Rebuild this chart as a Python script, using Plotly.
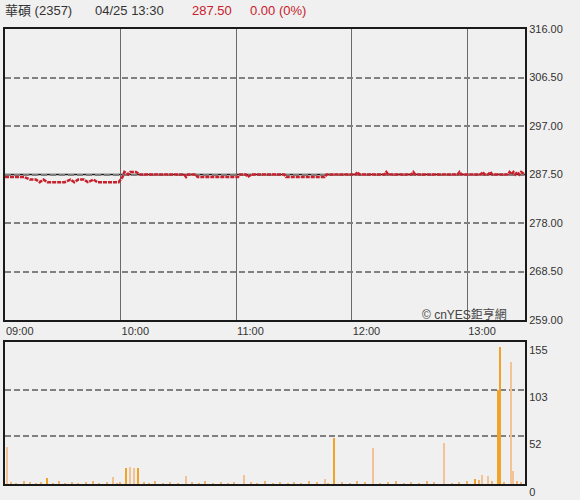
import plotly.graph_objects as go

DAY = "2024-04-25 "

# price path (minute after 09:00 -> price)
price_min = [0, 10, 13, 16, 18, 20, 22, 28, 31, 34, 36, 38, 41, 43, 46, 48, 59, 61, 62, 64, 65, 68,
             70, 93, 94, 95, 99, 100, 121, 122, 125, 126, 128, 145, 146, 152, 166, 167,
             182, 183, 184, 197, 198, 199, 211, 212, 213, 235, 236, 237, 247, 248, 249,
             251, 252, 253, 261, 262, 263, 264, 265, 266, 267, 268, 270]
price_val = [287.0, 287.0, 286.5, 286.5, 286.0, 286.5, 286.0, 286.0, 286.0, 286.5, 286.0, 286.5, 286.5, 286.0, 286.5, 286.0, 286.0, 287.0, 288.0, 287.5, 288.0, 288.0,
             287.5, 287.5, 287.0, 287.5, 287.5, 287.0, 287.0, 287.5, 287.5, 287.0, 287.5, 287.5, 287.0, 287.0, 287.0, 287.5,
             287.5, 288.0, 287.5, 287.5, 288.0, 287.5, 287.5, 288.0, 287.5, 287.5, 288.0, 287.5, 287.5, 288.0, 287.5,
             287.5, 288.0, 287.5, 287.5, 288.0, 287.5, 288.0, 287.5, 288.0, 287.5, 288.0, 287.5]

# volume bars (minute -> lots), two colours
vol_a_min = [22, 63, 69, 171, 244, 256, 257]
vol_a_val = [7, 18, 17, 50, 5, 103, 150]
vol_b_min = [1, 56, 65, 67, 94, 124, 166, 191, 228, 248, 251, 263, 264]
vol_b_val = [40, 8, 19, 18, 9, 10, 6, 39, 45, 10, 9, 133, 14]
vol_s_min = [3, 6, 10, 13, 16, 19, 25, 28, 31, 35, 38, 42, 46, 49, 53, 58, 60, 72, 75, 78, 82, 86, 90,
             97, 101, 104, 108, 112, 116, 119, 128, 131, 135, 139, 143, 147, 150, 154, 158, 162, 168,
             175, 179, 183, 187, 195, 199, 203, 207, 211, 215, 219, 223, 232, 236, 240, 246, 253, 259, 266, 268]
vol_s_val = [2, 1, 3, 2, 1, 2, 1, 3, 1, 2, 1, 2, 3, 1, 2, 1, 2, 2, 1, 3, 1, 2, 1,
             2, 1, 3, 1, 2, 1, 2, 2, 1, 3, 1, 2, 1, 2, 1, 3, 2, 1,
             2, 1, 3, 2, 1, 2, 3, 1, 2, 1, 3, 2, 1, 2, 3, 4, 3, 2, 3, 2]

price_ticks = [259.00, 268.50, 278.00, 287.50, 297.00, 306.50, 316.00]
vol_ticks = [0, 52, 103, 155]
time_ticks = ["09:00", "10:00", "11:00", "12:00", "13:00"]
prev_close = 287.5


def t(m):
    return DAY + "%02d:%02d" % (9 + m // 60, m % 60)


W, H = 580, 500
fig = go.Figure()

fig.add_trace(go.Scatter(
    x=[t(m) for m in price_min], y=price_val, mode="lines",
    line=dict(color="#c8202c", width=2.5, dash="4px,1px"),
    xaxis="x", yaxis="y", hoverinfo="skip"))

for mins, vals, col in [(vol_s_min, vol_s_val, "#f2b46e"),
                        (vol_b_min, vol_b_val, "#f3c395"),
                        (vol_a_min, vol_a_val, "#f0a326")]:
    fig.add_trace(go.Bar(
        x=[t(m) for m in mins], y=vals, width=40000,
        marker=dict(color=col, line=dict(width=0)),
        xaxis="x2", yaxis="y2", hoverinfo="skip"))

fig.add_hline(y=prev_close, line=dict(color="#222222", width=1.5), xref="x", yref="y", layer="below")

dom_x = [5 / W, 525 / W]
rng = [DAY + "09:00", DAY + "13:30"]
frame = dict(showline=True, mirror=True, linecolor="#1a1a1a", linewidth=2, zeroline=False, automargin=False)

fig.update_layout(
    width=W, height=H,
    margin=dict(l=0, r=0, t=0, b=0),
    paper_bgcolor="#f0f0f0", plot_bgcolor="#f0f0f0",
    showlegend=False, bargap=0,
    font=dict(family="Liberation Sans, Arial, sans-serif", size=11, color="#333333"),
    xaxis=dict(domain=dom_x, type="date", range=rng, anchor="y",
               tickvals=[DAY + s for s in time_ticks], ticktext=time_ticks,
               ticklabelposition="outside right", ticks="",
               showgrid=True, gridcolor="#6a6a6a", gridwidth=1, **frame),
    yaxis=dict(domain=[1 - 320 / H, 1 - 29 / H], range=[259, 316], anchor="x", side="right",
               tickvals=price_ticks, ticktext=["%.2f" % v for v in price_ticks], ticks="",
               showgrid=True, gridcolor="#808080", gridwidth=1.5, griddash="6px,3px", **frame),
    xaxis2=dict(domain=dom_x, type="date", range=rng, anchor="y2",
                showticklabels=False, showgrid=False, ticks="", **frame),
    yaxis2=dict(domain=[1 - 484 / H, 1 - 342 / H], range=[0, 155], anchor="x2", side="right",
                tickvals=vol_ticks, ticktext=[str(v) for v in vol_ticks], ticks="",
                ticklabelposition="outside bottom",
                showgrid=True, gridcolor="#808080", gridwidth=1.5, griddash="6px,3px", **frame),
)

head_y = 1 - 10 / H
cjk = "Liberation Sans, Noto Sans CJK TC, sans-serif"
for txt, px, col in [("華碩 (2357)", 3, "#333333"), ("04/25 13:30", 93, "#333333"),
                     ("287.50", 190, "#c8202c"), ("0.00 (0%)", 248, "#c8202c")]:
    fig.add_annotation(text=txt, x=px / W, y=head_y, xref="paper", yref="paper",
                       xanchor="left", yanchor="middle", showarrow=False,
                       font=dict(size=13, color=col, family=cjk))

fig.add_annotation(text="© cnYES鉅亨網", x=509 / W, y=1 - 314 / H, xref="paper", yref="paper",
                   xanchor="right", yanchor="middle", showarrow=False,
                   font=dict(size=12, color="#444444", family=cjk))

fig.write_html("out.html", config={"displayModeBar": False},
               post_script="document.body.style.margin='0';document.body.style.overflow='hidden';")
